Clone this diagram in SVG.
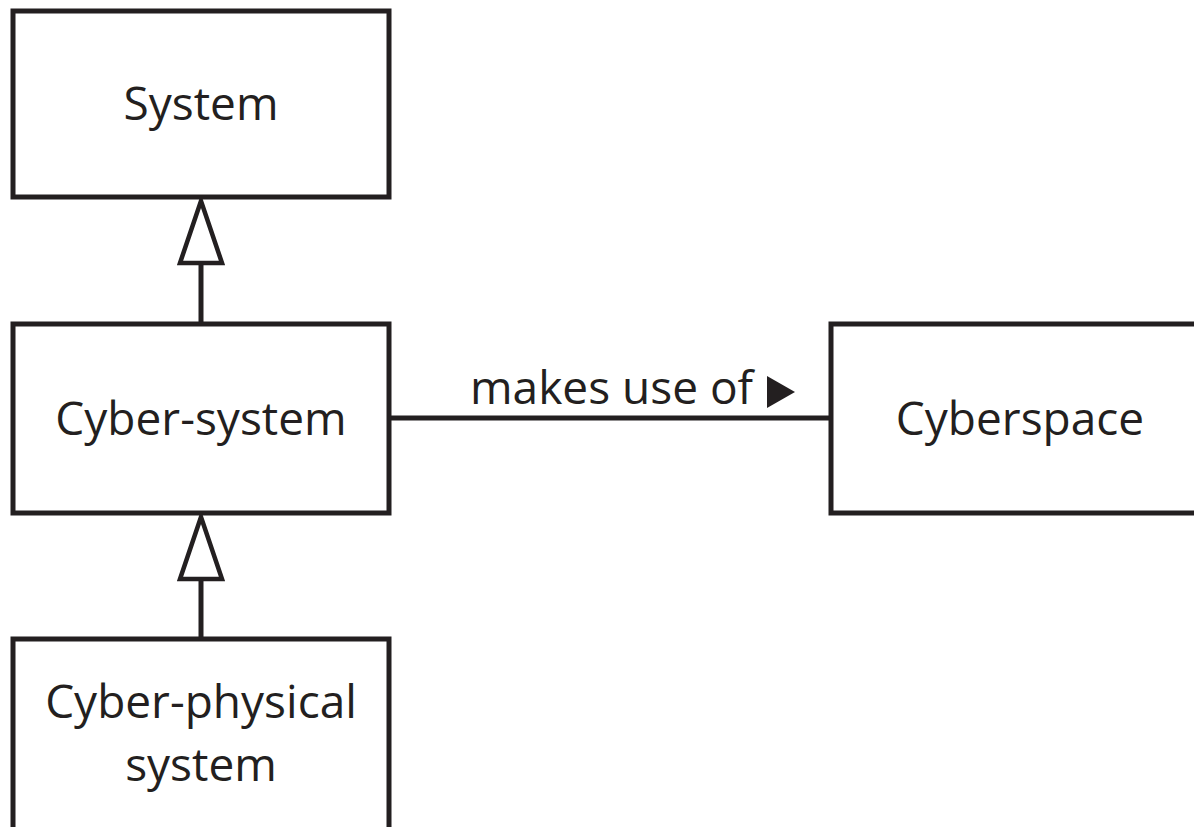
<svg xmlns="http://www.w3.org/2000/svg" width="1194" height="827" viewBox="0 0 1194 827">
  <style>
    .box { fill: #ffffff; stroke: #231f20; stroke-width: 5; }
    .line { fill: none; stroke: #231f20; stroke-width: 5; }
    .head { fill: #ffffff; stroke: #231f20; stroke-width: 4.5; stroke-linejoin: miter; }
    .label { font-family: "Open Sans", "Noto Sans", "Liberation Sans", sans-serif; font-size: 46px; fill: #231f20; text-anchor: middle; }
    .label.start { text-anchor: start; }
  </style>
  <rect width="1194" height="827" fill="#ffffff"/>

  <g id="connectors">
    <!-- generalization: Cyber-system to System -->
    <line class="line" x1="201" y1="263" x2="201" y2="322"/>
    <polygon class="head" points="201,201 180,263 222,263"/>
    <!-- generalization: Cyber-physical system to Cyber-system -->
    <line class="line" x1="201" y1="579" x2="201" y2="638"/>
    <polygon class="head" points="201,517 180,579 222,579"/>
    <!-- association: Cyber-system makes use of Cyberspace -->
    <line class="line" x1="389" y1="418" x2="831" y2="418"/>
    <text class="label start" x="470" y="404">makes use of</text>
    <polygon points="767,376 795,392 767,408" fill="#231f20"/>
  </g>

  <g id="system">
    <rect class="box" x="13" y="11" width="376" height="186"/>
    <text class="label" x="201" y="120">System</text>
  </g>

  <g id="cyber-system">
    <rect class="box" x="13" y="324" width="376" height="189"/>
    <text class="label" x="201" y="435">Cyber-system</text>
  </g>

  <g id="cyberspace">
    <rect class="box" x="831" y="324" width="400" height="189"/>
    <text class="label" x="1020" y="435">Cyberspace</text>
  </g>

  <g id="cyber-physical-system">
    <rect class="box" x="13" y="639" width="376" height="220"/>
    <text class="label" x="201" y="718">Cyber-physical</text>
    <text class="label" x="201" y="781">system</text>
  </g>
</svg>
